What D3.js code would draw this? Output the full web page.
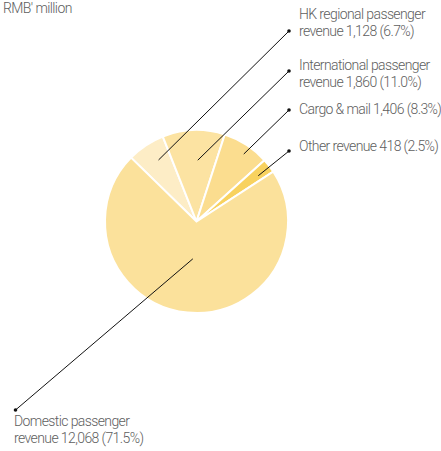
<!DOCTYPE html>
<html lang="en">
<head>
  <meta charset="UTF-8">
  <title>Revenue breakdown</title>
  <style>
    body { margin: 0; background: #fff; }
    text {
      font-family: Roboto, "Liberation Sans Narrow", sans-serif;
      font-weight: 300;
      font-size: 14px;
      letter-spacing: -0.6px;
      fill: #5e5e5e;
    }
    .slice { stroke: #fff; stroke-width: 2px; }
    .leader { stroke: #111; stroke-width: 1px; fill: none; }
  </style>
</head>
<body>
  <svg id="chart" width="441" height="451"></svg>

  <script src="https://d3js.org/d3.v7.min.js"></script>
  <script>
    const names = ['HK regional passenger revenue', 'International passenger revenue', 'Cargo & mail', 'Other revenue', 'Domestic passenger revenue'];
    const values = [1128, 1860, 1406, 418, 12068];
    const shares = ['6.7%', '11.0%', '8.3%', '2.5%', '71.5%'];
    const labelLines = [
      ['HK regional passenger', 'revenue 1,128 (6.7%)'],
      ['International passenger', 'revenue 1,860 (11.0%)'],
      ['Cargo & mail 1,406 (8.3%)'],
      ['Other revenue 418 (2.5%)'],
      ['Domestic passenger', 'revenue 12,068 (71.5%)']
    ];
    const colors = ['#fdedc6', '#fce3a2', '#fbdd8f', '#f8d25f', '#fbe19b'];

    // label layout: dot position, text origin, anchor radius (fraction of r)
    const layout = [
      { dot: [289, 31], text: [299, 19], rf: 0.79, da: 2 },
      { dot: [289, 71], text: [299, 70], rf: 0.67, da: 3 },
      { dot: [289, 110], text: [299, 113.5], rf: 0.9, da: 2 },
      { dot: [289, 151], text: [299, 151], rf: 0.84, da: 1 },
      { dot: [15.5, 410], text: [14, 426], rf: 0.41, da: 0 }
    ];

    const svg = d3.select('#chart');
    const cx = 196.5, cy = 221.5, r = 91.5;
    const start = -45.7 * Math.PI / 180;

    svg.append('text')
      .attr('x', 3)
      .attr('y', 12.5)
      .text("RMB' million");

    const pie = d3.pie().sort(null).startAngle(start).endAngle(start + 2 * Math.PI);
    const arcs = pie(values);
    const arc = d3.arc().innerRadius(0).outerRadius(r);

    const g = svg.append('g').attr('transform', `translate(${cx},${cy})`);
    g.selectAll('path')
      .data(arcs)
      .enter().append('path')
      .attr('class', 'slice')
      .attr('fill', (d, i) => colors[i])
      .attr('d', arc);

    arcs.forEach((d, i) => {
      const L = layout[i];
      const a = (d.startAngle + d.endAngle) / 2 + L.da * Math.PI / 180;
      const ax = cx + Math.sin(a) * r * L.rf;
      const ay = cy - Math.cos(a) * r * L.rf;
      svg.append('line')
        .attr('class', 'leader')
        .attr('x1', ax).attr('y1', ay)
        .attr('x2', L.dot[0]).attr('y2', L.dot[1]);
      svg.append('circle')
        .attr('cx', L.dot[0]).attr('cy', L.dot[1])
        .attr('r', 1.8)
        .attr('fill', '#111');
      const t = svg.append('text')
        .attr('x', L.text[0])
        .attr('y', L.text[1]);
      labelLines[i].forEach((line, j) => {
        t.append('tspan')
          .attr('x', L.text[0])
          .attr('dy', j === 0 ? 0 : 16.5)
          .text(line);
      });
    });
  </script>
</body>
</html>
